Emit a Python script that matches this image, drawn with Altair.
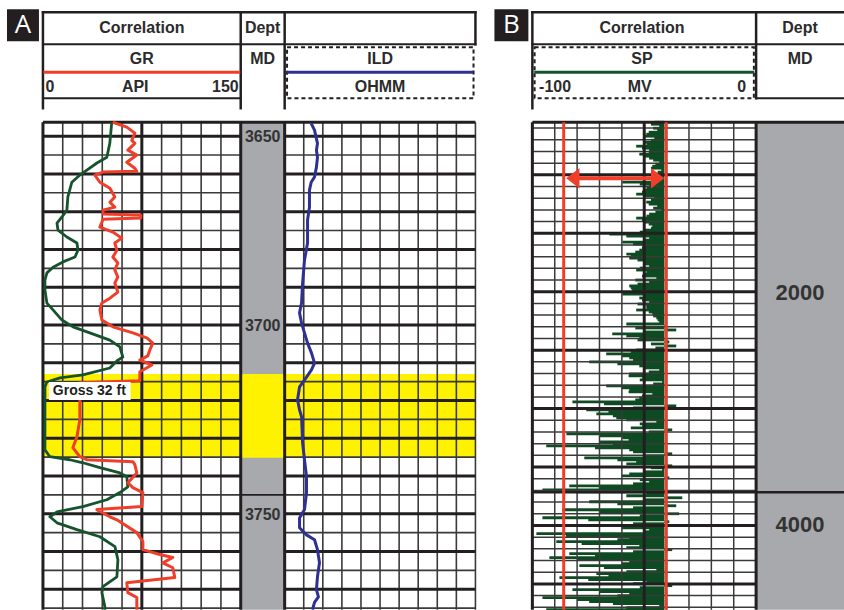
import altair as alt
import pandas as pd

# ---------------- data ----------------
# Panel A (depth in ft MD)
gr_depth = [3646.3, 3647.6, 3649.2, 3651.1, 3651.9, 3653.7, 3655.0, 3656.9, 3658.5, 3659.3,
            3659.5, 3660.3, 3662.2, 3663.8, 3666.1, 3667.5, 3668.8, 3669.6, 3670.6, 3670.9,
            3671.7, 3672.0, 3672.8, 3674.1, 3675.4, 3677.0, 3678.3, 3680.2, 3682.0, 3683.6,
            3685.4, 3687.3, 3688.9, 3691.3, 3692.9, 3694.2, 3696.0, 3698.7, 3700.5, 3702.1,
            3703.4, 3704.8, 3706.6, 3708.2, 3709.3, 3710.6, 3712.4, 3714.8, 3715.3, 3718.0,
            3725.1, 3729.6, 3732.5, 3734.9, 3735.7, 3736.2, 3737.0, 3739.2, 3741.8, 3743.1,
            3744.4, 3748.1, 3748.9, 3750.8, 3751.6, 3755.0, 3757.4, 3759.5, 3760.8, 3761.6,
            3763.0, 3764.3, 3766.9, 3768.3, 3770.9, 3772.2, 3775.4]
gr_api = [53.0, 63.6, 69.7, 67.4, 69.7, 64.4, 71.2, 63.6, 69.7, 71.2,
          45.5, 39.4, 43.2, 50.8, 54.5, 50.8, 54.5, 45.5, 45.5, 74.2,
          74.2, 45.5, 44.7, 43.2, 53.0, 59.8, 54.5, 56.1, 53.0, 56.8,
          54.5, 56.8, 54.5, 56.8, 50.8, 44.7, 43.2, 44.7, 53.0, 68.2,
          78.8, 83.3, 81.1, 79.5, 73.5, 82.6, 73.5, 73.5, 28.0, 28.0,
          28.0, 25.8, 22.7, 28.0, 33.3, 68.2, 69.7, 71.2, 64.4, 68.2,
          75.8, 75.0, 40.9, 50.8, 56.1, 71.2, 75.8, 75.8, 88.6, 98.5,
          90.9, 98.5, 100.0, 63.6, 64.4, 71.2, 71.2]

spa_depth = [3646.3, 3651.9, 3655.6, 3657.1, 3659.0, 3660.3, 3662.2, 3666.1, 3669.6, 3671.4,
             3673.0, 3674.9, 3676.7, 3678.3, 3680.2, 3682.0, 3683.3, 3684.7, 3686.2, 3688.1,
             3690.7, 3694.2, 3696.0, 3698.7, 3700.5, 3702.1, 3704.0, 3705.8, 3708.5, 3709.3,
             3711.4, 3713.2, 3714.0, 3715.1, 3716.4, 3733.1, 3734.9, 3735.7, 3736.5, 3737.8,
             3739.2, 3740.2, 3742.9, 3744.4, 3746.3, 3748.1, 3749.5, 3750.8, 3752.4, 3754.2,
             3756.1, 3758.7, 3762.2, 3766.7, 3769.3, 3770.9, 3774.6, 3775.4]
spa_mv = [-65.2, -66.2, -67.7, -72.7, -77.8, -81.3, -85.4, -87.4, -87.9, -90.4,
          -92.9, -92.4, -87.9, -82.8, -82.3, -83.8, -89.9, -94.9, -98.0, -99.0,
          -99.0, -98.0, -94.9, -90.4, -84.8, -76.3, -66.2, -61.1, -59.6, -62.1,
          -66.2, -79.8, -91.4, -98.0, -99.0, -99.0, -96.5, -86.4, -79.8, -71.2,
          -61.1, -57.6, -57.1, -61.1, -67.7, -79.8, -92.9, -96.5, -92.9, -82.8,
          -71.2, -63.6, -62.1, -62.6, -69.7, -70.2, -68.7, -68.7]

ild_depth = [3646.6, 3648.4, 3650.3, 3651.9, 3653.7, 3655.6, 3658.2, 3660.8, 3662.2, 3664.3,
             3668.8, 3672.2, 3678.3, 3682.8, 3688.9, 3694.2, 3696.8, 3699.5, 3702.1, 3704.8,
             3707.4, 3710.1, 3711.9, 3713.8, 3716.4, 3719.8, 3722.5, 3724.3, 3731.2, 3735.7,
             3740.2, 3744.4, 3748.9, 3751.1, 3753.7, 3755.6, 3756.9, 3759.5, 3763.0, 3766.7,
             3770.1, 3772.0, 3773.5, 3775.4]
ild_ohmm = [2.78, 3.13, 3.30, 3.44, 3.33, 3.44, 3.33, 3.13, 2.78, 2.60,
            2.60, 2.40, 2.40, 2.08, 1.88, 1.77, 1.56, 1.77, 2.08, 2.40,
            2.81, 3.13, 2.81, 2.29, 1.56, 1.35, 1.56, 1.77, 1.88, 2.08,
            2.29, 2.29, 2.08, 1.56, 1.56, 2.29, 3.13, 3.44, 3.65, 3.44,
            3.33, 3.54, 3.13, 2.92]

a_depth_labels = [3650, 3700, 3750]
a_pay_top, a_pay_base = 3713.0, 3735.2
a_col_break = 3745.0

# Panel B: SP samples (mV). b_sp at b_first + i*b_step, b_sp_mid half a step lower
b_first, b_step = 1855.0, 3.418
b_sp = [-45.5, -43.3, -44.2, -49.1, -45.5, -50.0, -53.6, -47.8, -52.2, -47.8,
        -43.3, -46.4, -42.4, -44.6, -42.0, -59.8, -47.8, -50.0, -53.6, -45.5,
        -49.1, -44.2, -42.4, -47.8, -53.6, -50.0, -46.4, -50.0, -65.6, -47.8,
        -59.8, -50.9, -52.2, -58.0, -56.7, -50.0, -47.8, -53.6, -50.0, -44.6,
        -47.8, -56.7, -55.4, -59.8, -52.2, -47.8, -49.1, -53.6, -46.4, -44.6,
        -43.3, -40.2, -35.7, -64.3, -52.2, -38.8, -35.7, -53.6, -67.0, -56.7,
        -74.6, -52.2, -43.3, -56.7, -50.9, -42.0, -67.0, -56.7, -46.4, -52.2,
        -82.1, -35.7, -75.9, -71.4, -62.5, -44.6, -50.9, -37.5, -84.8, -59.8,
        -70.1, -93.8, -56.7, -37.5, -76.8, -53.6, -37.5, -42.0, -56.7, -38.8,
        -47.8, -83.5, -95.5, -49.1, -33.0, -74.6, -35.7, -86.6, -34.4, -95.5,
        -38.8, -44.6, -47.8, -98.2, -56.7, -89.3, -52.2, -37.5, -83.5, -92.4,
        -56.7, -79.0, -44.6, -71.4, -87.9, -49.1, -37.5, -82.1, -56.7, -95.5,
        -74.6, -43.3, -93.8]
b_sp_mid = [-47, -46, -48, -50, -47, -49, -51, -48, -50, -46,
            -45, -47, -44, -46, -45, -52, -49, -51, -50, -47,
            -48, -46, -45, -49, -51, -48, -47, -52, -58, -50,
            -55, -51, -54, -56, -53, -50, -52, -49, -51, -54,
            -53, -56, -52, -50, -51, -53, -49, -48, -46, -44,
            -58, -54, -50, -58, -53, -47, -45, -56, -60, -55,
            -62, -50, -48, -57, -52, -46, -60, -57, -51, -54,
            -68, -55, -66, -64, -58, -52, -56, -48, -70, -57,
            -64, -72, -55, -50, -62, -58, -47, -50, -60, -52,
            -55, -70, -80, -58, -50, -62, -55, -70, -52, -75,
            -55, -60, -50, -85, -62, -78, -58, -55, -72, -80,
            -60, -68, -58, -66, -75, -55, -52, -70, -62, -80,
            -64, -58, -72]
b_depth = [round(b_first + i * b_step, 2) for i in range(len(b_sp))]
b_depth_mid = [round(d + b_step / 2, 2) for d in b_depth]
b_sp_base = -41.0
b_ssp_lines = [-86.0, -40.2]
b_arrow = {"from": -84.8, "to": -41.1, "depth": 1902.9}
b_col_break = 2171.5
b_depth_labels = ["2000", "4000"]
b_depth_label_pos = [2001.0, 2199.4]

# ---------------- styling / layout ----------------
INK = "#231f20"
TXT = "#2b2b2b"
THIN = "#3a3a3a"
RED = "#ef3e2a"
GREEN_A = "#16532c"
GREEN_B = "#0e4b23"
BLUE = "#2e3192"
YELLOW = "#fff200"
GRAY = "#a7a9ac"
HF = "Liberation Sans"

W, H = 802, 488
A_TOP, A_BOT = 3646.3, 3775.4
B_TOP, B_BOT = 1855.0, 2272.0


def S(dom, rng):
    return alt.Scale(domain=dom, range=rng, nice=False, zero=False)


A_Y = S([A_TOP, A_BOT], [0, H])
A_GR = S([0, 150], [0, 198])
A_SP = S([-100, 0], [0, 198])
A_DEP = S([0, 1], [198, 242])
A_ILD = S([0, 20], [242, 433])
A_PAN = S([0, 1], [0, 433])
B_Y = S([B_TOP, B_BOT], [0, H])
B_SP = S([-100, 0], [490, 714])
B_DEP = S([0, 1], [714, 802])
B_PAN = S([0, 1], [490, 802])

R_TOP, R_MID, R_CURVE, R_BOX, R_BOT, R_END = -110, -78, -50, -75, -24, -14
T1, T2, T3 = -94, -63, -35

ONE = pd.DataFrame({"k": [0]})


def xs(f, sc):
    return alt.X(f, type="quantitative", scale=sc, axis=None)


def ys(f, sc):
    return alt.Y(f, type="quantitative", scale=sc, axis=None)


def xd(v, sc):
    return alt.XDatum(v, type="quantitative", scale=sc, axis=None)


def yd(v, sc):
    return alt.YDatum(v, type="quantitative", scale=sc, axis=None)


def vgrid(values, sc, w, color):
    return alt.Chart(pd.DataFrame({"v": values})).mark_rule(strokeWidth=w, color=color).encode(x=xs("v", sc))


def hgrid(values, xsc, x0, x1, ysc, w, color):
    return alt.Chart(pd.DataFrame({"d": values})).mark_rule(strokeWidth=w, color=color).encode(
        x=xd(x0, xsc), x2=alt.X2Datum(x1), y=ys("d", ysc))


def box(xsc, x0, x1, ysc, y0, y1, color):
    return alt.Chart(ONE).mark_rect(color=color).encode(
        x=xd(x0, xsc), x2=alt.X2Datum(x1), y=yd(y0, ysc), y2=alt.Y2Datum(y1))


def hline(sc, x0, x1, yv, w=2.0, color=INK):
    return alt.Chart(ONE).mark_rule(strokeWidth=w, color=color, strokeCap="square").encode(
        x=xd(x0, sc), x2=alt.X2Datum(x1), y=alt.value(yv))


def vline(sc, xv, y0, y1, w=2.5, color=INK):
    return alt.Chart(ONE).mark_rule(strokeWidth=w, color=color, strokeCap="square").encode(
        x=xd(xv, sc), y=alt.value(y0), y2=alt.value(y1))


def dashbox(sc, x0, x1):
    return alt.Chart(ONE).mark_rect(filled=False, stroke=INK, strokeWidth=2, strokeDash=[4, 3]).encode(
        x=xd(x0, sc), x2=alt.X2Datum(x1), y=alt.value(R_BOX), y2=alt.value(R_BOT))


def htext(sc, xv, yv, s, align="center", size=16):
    return alt.Chart(ONE).mark_text(text=s, align=align, baseline="middle", font=HF, fontSize=size,
                                    fontWeight="bold", color=TXT).encode(x=xd(xv, sc), y=alt.value(yv))


def curve(depths, vals, xsc, ysc, color, w=3.0):
    df = pd.DataFrame({"depth": depths, "val": vals})
    return alt.Chart(df).mark_line(color=color, strokeWidth=w, strokeJoin="round").encode(
        x=xs("val", xsc), y=ys("depth", ysc), order=alt.Order("depth:Q"))


L = []

# ================= Panel A =================
L.append(box(A_PAN, 0, 1, A_Y, a_pay_top, a_pay_base, YELLOW))
L.append(vgrid([15, 30, 45, 60, 90, 105, 120, 135], A_GR, 1.6, THIN))
L.append(vgrid([2, 4, 6, 8, 10, 12, 14, 16, 18, 20], A_ILD, 1.6, THIN))
a_thin = [d for d in range(3655, 3776, 10)]
a_thick = [d for d in range(3650, 3776, 10)]
L.append(hgrid(a_thin, A_PAN, 0, 1, A_Y, 1.6, THIN))
L.append(hgrid(a_thick, A_PAN, 0, 1, A_Y, 3.0, INK))
L.append(box(A_DEP, 0, 1, A_Y, A_TOP, A_BOT, GRAY))
L.append(box(A_DEP, 0, 1, A_Y, a_pay_top, a_pay_base, YELLOW))
L.append(hgrid([a_col_break], A_DEP, 0, 1, A_Y, 1.6, INK))
L.append(hgrid([A_TOP], A_PAN, 0, 1, A_Y, 3.0, INK))
L.append(vgrid([0, 75, 150], A_GR, 3.0, INK))
L.append(vgrid([0], A_ILD, 3.0, INK))

L.append(curve(spa_depth, spa_mv, A_SP, A_Y, GREEN_A, 2.8))
L.append(curve(gr_depth, gr_api, A_GR, A_Y, RED, 3.0))
L.append(curve(ild_depth, ild_ohmm, A_ILD, A_Y, BLUE, 3.0))

L.append(alt.Chart(pd.DataFrame({"d": a_depth_labels, "t": [str(v) for v in a_depth_labels]}))
         .mark_text(font=HF, fontSize=16, fontWeight="bold", color="#333333", baseline="middle", dy=1)
         .encode(x=xd(0.5, A_DEP), y=ys("d", A_Y), text="t:N"))

L.append(box(A_GR, 4.5, 66.5, A_Y, 3715.1, 3719.9, "white"))
L.append(alt.Chart(ONE).mark_text(text="Gross 32 ft", align="left", baseline="middle", font=HF,
                                  fontSize=14, fontWeight="bold", color=INK)
         .encode(x=xd(7.5, A_GR), y=yd(3717.5, A_Y)))

# header A
L.append(alt.Chart(ONE).mark_rect(color=INK).encode(
    x=alt.value(-36), x2=alt.value(-4), y=alt.value(-113), y2=alt.value(-81)))
L.append(alt.Chart(ONE).mark_text(text="A", font="Open Sans", fontSize=26, color="white",
                                  baseline="middle").encode(x=alt.value(-20), y=alt.value(-97)))
L.append(hline(A_PAN, 0, 1, R_TOP, 2.5))
L.append(hline(A_PAN, 0, 1, R_MID, 2.0))
L.append(vline(A_GR, 0, R_TOP, R_END))
L.append(vline(A_GR, 150, R_TOP, R_END))
L.append(vline(A_DEP, 1, R_TOP, R_END))
L.append(vline(A_PAN, 1, R_TOP, R_MID))
L.append(hline(A_GR, 0, 150, R_BOT, 2.0))
L.append(hline(A_GR, 1.5, 148.5, R_CURVE, 3.0, RED))
L.append(dashbox(A_ILD, 0.25, 19.8))
L.append(hline(A_ILD, 0.4, 19.6, R_CURVE, 3.0, BLUE))
L.append(htext(A_GR, 75, T1, "Correlation"))
L.append(htext(A_DEP, 0.5, T1, "Dept"))
L.append(htext(A_GR, 75, T2, "GR"))
L.append(htext(A_DEP, 0.5, T2, "MD"))
L.append(htext(A_ILD, 10, T2, "ILD"))
L.append(htext(A_GR, 2.0, T3, "0", align="left"))
L.append(htext(A_GR, 70, T3, "API"))
L.append(htext(A_GR, 148.5, T3, "150", align="right"))
L.append(htext(A_ILD, 10, T3, "OHMM"))

# ================= Panel B =================
sp_df = pd.DataFrame({"depth": b_depth + b_depth_mid, "sp": b_sp + b_sp_mid})
L.append(alt.Chart(sp_df).mark_rule(strokeWidth=2.8, color=GREEN_B).encode(
    x=xs("sp", B_SP), x2=alt.X2Datum(b_sp_base), y=ys("depth", B_Y)))
L.append(vgrid([-90, -80, -70, -60, -40, -30, -20, -10], B_SP, 1.5, THIN))
b_all = list(range(1860, 2271, 10))
L.append(hgrid([d for d in b_all if d % 50], B_SP, -100, 0, B_Y, 1.5, THIN))
L.append(hgrid([d for d in b_all if d % 50 == 0], B_SP, -100, 0, B_Y, 3.0, INK))
L.append(box(B_DEP, 0, 1, B_Y, B_TOP, B_BOT, GRAY))
L.append(hgrid([b_col_break], B_PAN, 0, 1, B_Y, 2.5, INK))
L.append(hgrid([B_TOP], B_PAN, 0, 1, B_Y, 3.0, INK))
L.append(vgrid([-100, -50, 0], B_SP, 3.0, INK))
L.append(vgrid(b_ssp_lines, B_SP, 3.0, RED))

L.append(alt.Chart(ONE).mark_rule(strokeWidth=4, color=RED).encode(
    x=xd(b_arrow["from"] + 5, B_SP), x2=alt.X2Datum(b_arrow["to"] - 5), y=yd(b_arrow["depth"], B_Y)))
L.append(alt.Chart(ONE).mark_point(shape="M0.65,-1L-0.65,0L0.65,1Z", size=420, filled=True, opacity=1,
                                   color=RED, xOffset=6.5)
         .encode(x=xd(b_arrow["from"], B_SP), y=yd(b_arrow["depth"], B_Y)))
L.append(alt.Chart(ONE).mark_point(shape="M-0.65,-1L0.65,0L-0.65,1Z", size=420, filled=True, opacity=1,
                                   color=RED, xOffset=-6.5)
         .encode(x=xd(b_arrow["to"], B_SP), y=yd(b_arrow["depth"], B_Y)))

L.append(alt.Chart(pd.DataFrame({"d": b_depth_label_pos, "t": b_depth_labels}))
         .mark_text(font=HF, fontSize=22, fontWeight="bold", color="#333333", baseline="middle")
         .encode(x=xd(0.5, B_DEP), y=ys("d", B_Y), text="t:N"))

# header B
L.append(alt.Chart(ONE).mark_rect(color=INK).encode(
    x=alt.value(452), x2=alt.value(486), y=alt.value(-113), y2=alt.value(-81)))
L.append(alt.Chart(ONE).mark_text(text="B", font="Open Sans", fontSize=26, color="white",
                                  baseline="middle").encode(x=alt.value(469), y=alt.value(-97)))
L.append(hline(B_PAN, 0, 1, R_TOP, 2.5))
L.append(hline(B_PAN, 0, 1, R_MID, 2.0))
L.append(vline(B_SP, -100, R_TOP, R_END))
L.append(vline(B_SP, 0, R_TOP, R_BOT))
L.append(hline(B_DEP, 0, 1, R_BOT, 2.0))
L.append(dashbox(B_SP, -99.0, -1.0))
L.append(hline(B_SP, -98.5, -1.5, R_CURVE, 3.0, GREEN_A))
L.append(htext(B_SP, -51, T1, "Correlation"))
L.append(htext(B_DEP, 0.5, T1, "Dept"))
L.append(htext(B_SP, -51, T2, "SP"))
L.append(htext(B_DEP, 0.5, T2, "MD"))
L.append(htext(B_SP, -97, T3, "-100", align="left"))
L.append(htext(B_SP, -52, T3, "MV"))
L.append(htext(B_SP, -4.5, T3, "0", align="right"))

chart = (alt.layer(*L)
         .resolve_scale(x="independent", y="independent")
         .properties(width=W, height=H, background="white",
                     autosize=alt.AutoSizeParams(type="none"),
                     padding={"left": 43, "top": 122, "right": 0, "bottom": 0})
         .configure_view(strokeWidth=0))

chart.save("out.html", embed_options={"renderer": "svg", "actions": False})
